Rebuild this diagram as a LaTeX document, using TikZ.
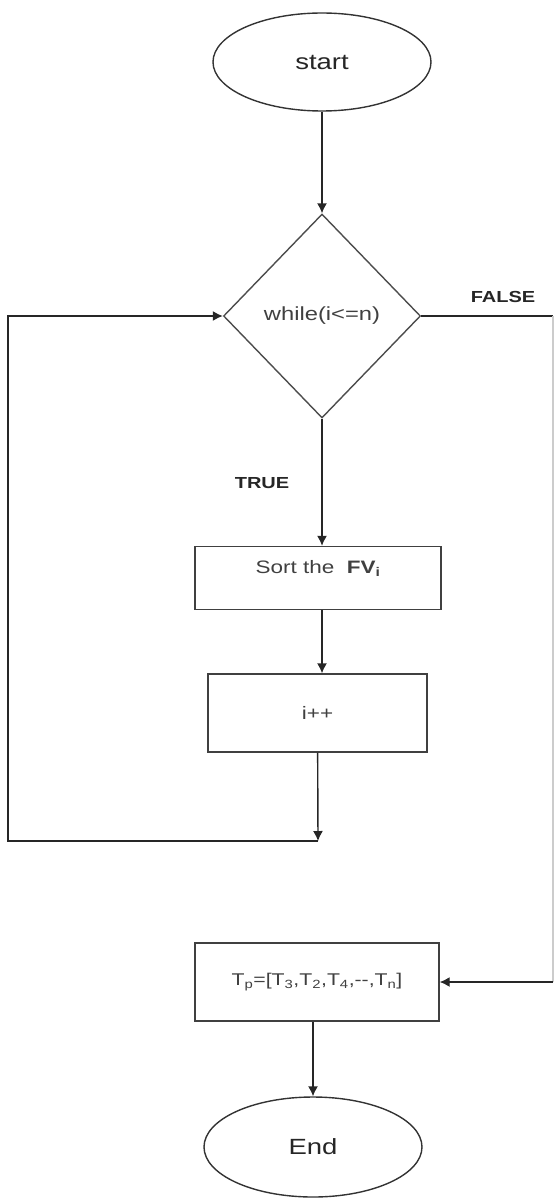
\documentclass[tikz,border=0pt]{standalone}
\usepackage{fontspec}
\setmainfont[FakeStretch=1.25]{Liberation Sans}
\usetikzlibrary{shapes.geometric,arrows.meta}
\begin{document}
\begin{tikzpicture}[x=1pt,y=-1pt,line width=1.4pt,
    term/.style={draw=black!80,ellipse,minimum width=218pt,minimum height=98pt,inner sep=0pt,font=\fontsize{22}{24}\selectfont,text=black!85},
    cond/.style={draw=black!70,diamond,aspect=1,minimum width=197pt,minimum height=204pt,inner sep=0pt,font=\fontsize{19}{22}\selectfont,text=black!75},
    proc/.style={draw=black!75,rectangle,inner sep=0pt,font=\fontsize{18}{20}\selectfont,text=black!75},
    flow/.style={draw=black!85,-{Latex[width=10pt,length=10pt]}},
    tag/.style={font=\bfseries\fontsize{16}{18}\selectfont,text=black!85}]
    \useasboundingbox (0,0) rectangle (555,1198);
    % nodes
    \node[term] (start) at (322,62) {start};
    \node[cond] (loop) at (322,316) {while(i<=n)};
    \node[proc,minimum width=246pt,minimum height=63pt,text depth=23pt] (sort) at (318,578) {Sort the\ \ \textbf{FV\textsubscript{i}}};
    \node[proc,minimum width=219pt,minimum height=78pt] (inc) at (317.5,713) {i++};
    \node[proc,minimum width=244pt,minimum height=78pt,font=\fontsize{17}{20}\selectfont] (tp) at (317,982) {T\textsubscript{p}=[T\textsubscript{3},T\textsubscript{2},T\textsubscript{4},-{}-,T\textsubscript{n}]};
    \node[term,minimum height=100pt] (end) at (313,1147) {End};
    \node[tag] (no) at (503,297) {FALSE};
    \node[tag] (yes) at (262,483) {TRUE};
    \coordinate (back) at (318,841);
    \coordinate (lft) at (8,0);
    \coordinate (rgt) at (553,0);
    % connectors
    \draw[flow] (start) -- (loop);
    \draw[flow] (loop.south) -- (loop.south |- sort.north);
    \draw[flow] (loop.south |- sort.south) -- (loop.south |- inc.north);
    \draw[flow] (inc) -- (back);
    \draw[flow] (back) -- (back -| lft) |- (loop.west);
    \draw[draw=black!85] (loop.east) -- (loop.east -| rgt);
    \draw[draw=black!20] (loop.east -| rgt) -- (tp.east -| rgt);
    \draw[flow] (tp.east -| rgt) -- (tp.east);
    \draw[flow] (tp.south -| end.north) -- (end);
\end{tikzpicture}
\end{document}
